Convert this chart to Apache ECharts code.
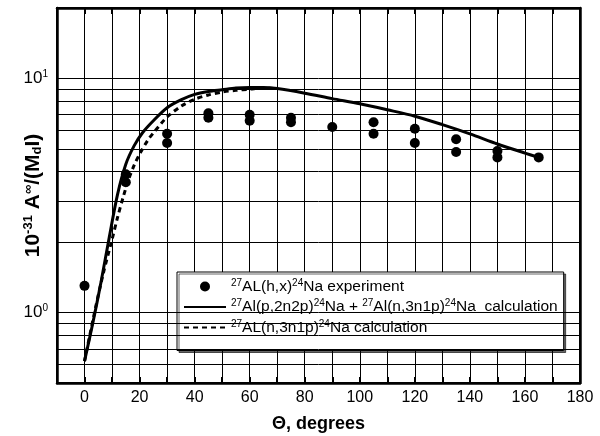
<!DOCTYPE html>
<html>
<head>
<meta charset="utf-8">
<script src="https://cdn.jsdelivr.net/npm/echarts@6/dist/echarts.min.js"></script>
<style>
  html, body { margin: 0; padding: 0; background: #fff; }
  #chart { width: 600px; height: 436px; }
</style>
</head>
<body>
<div id="chart"></div>
<script>
// Measured activity of 24Na versus emission angle
const expAngles = [0, 15, 15, 30, 30, 45, 45, 60, 60, 75, 75, 90, 105, 105, 120, 120, 135, 135, 150, 150, 165];
const expValues = [1.3, 3.9, 3.6, 5.8, 5.3, 7.1, 6.8, 7.0, 6.6, 6.8, 6.5, 6.2, 6.5, 5.8, 6.1, 5.3, 5.5, 4.85, 4.9, 4.6, 4.6];

// Calculation: (p,2n2p) + (n,3n1p) channels
const sumAngles = [0, 3, 6, 9, 12, 15, 18, 21, 25, 30, 35, 40, 45, 50, 55, 60, 65, 70, 80, 90, 100, 110, 120, 130, 140, 150, 160, 165];
const sumValues = [0.62, 0.9, 1.35, 2.1, 3.2, 4.3, 5.15, 5.85, 6.6, 7.5, 8.1, 8.55, 8.8, 8.95, 9.1, 9.15, 9.15, 9.05, 8.65, 8.2, 7.8, 7.35, 6.9, 6.35, 5.8, 5.25, 4.8, 4.6];

// Calculation: (n,3n1p) channel only
const n3n1pAngles = [0, 4, 7, 10, 12, 14, 16, 18, 20, 23, 25, 28, 30, 35, 40, 45, 50, 55, 60, 65, 70];
const n3n1pValues = [0.62, 1.05, 1.5, 2.05, 2.55, 3.1, 3.7, 4.25, 4.75, 5.45, 5.85, 6.45, 6.85, 7.6, 8.15, 8.5, 8.75, 8.9, 9.0, 9.1, 9.05];

// Horizontal grid levels of the logarithmic axis
const yGridLevels = [0.6, 0.7, 0.8, 0.9, 1, 2, 3, 4, 5, 6, 7, 8, 9, 10];
const yLabelDecades = { 1: '0', 10: '1' };

const legendNames = [
  '27AL(h,x)24Na experiment',
  '27Al(p,2n2p)24Na + 27Al(n,3n1p)24Na  calculation',
  '27AL(n,3n1p)24Na calculation'
];
const legendRich = {
  [legendNames[0]]: '{s|27}AL(h,x){s|24}Na experiment',
  [legendNames[1]]: '{s|27}Al(p,2n2p){s|24}Na + {s|27}Al(n,3n1p){s|24}Na  calculation',
  [legendNames[2]]: '{s|27}AL(n,3n1p){s|24}Na calculation'
};

const pairs = (xs, ys) => xs.map((x, i) => [x, ys[i]]);
const FONT = '"Liberation Sans", Arial, sans-serif';

const chart = echarts.init(document.getElementById('chart'), null, { renderer: 'canvas' });

const xBase = {
  type: 'value',
  min: -10,
  max: 180,
  interval: 10,
  axisLine: { show: true, onZero: false, lineStyle: { color: '#000', width: 2.5 } },
  axisTick: { show: true, inside: true, length: 6, lineStyle: { color: '#000', width: 2 } }
};

chart.setOption({
  animation: false,
  backgroundColor: '#fff',
  textStyle: { fontFamily: FONT, color: '#000' },
  grid: {
    left: 57, right: 20, top: 8, bottom: 53,
    outerBoundsMode: 'none',
    containLabel: false,
    show: true, borderColor: '#000', borderWidth: 2
  },
  legend: {
    orient: 'vertical',
    left: 177,
    top: 272,
    padding: [6, 6, 15, 6],
    itemWidth: 42,
    itemHeight: 10,
    itemGap: 4,
    backgroundColor: '#fff',
    borderColor: '#000',
    borderWidth: 1,
    shadowColor: 'rgba(0,0,0,0.6)',
    shadowOffsetX: 2,
    shadowOffsetY: 2,
    shadowBlur: 0,
    data: [
      { name: legendNames[0] },
      { name: legendNames[1], itemStyle: { opacity: 0 } },
      { name: legendNames[2], itemStyle: { opacity: 0 } }
    ],
    formatter: (name) => legendRich[name],
    textStyle: {
      fontFamily: FONT, fontSize: 15.5, color: '#000',
      rich: { s: { fontFamily: FONT, fontSize: 10, color: '#000', padding: [0, 0, 7, 0] } }
    }
  },
  xAxis: [
    Object.assign({}, xBase, {
      position: 'bottom',
      name: 'Θ, degrees',
      nameLocation: 'middle',
      nameGap: 32,
      nameTextStyle: { fontFamily: FONT, fontSize: 18, fontWeight: 'bold', color: '#000' },
      axisLabel: {
        margin: 7, fontSize: 16, color: '#000', fontFamily: FONT,
        formatter: (v) => (v >= 0 && v % 20 === 0 ? String(v) : '')
      },
      splitLine: { show: true, lineStyle: { color: '#000', width: 1 } }
    }),
    Object.assign({}, xBase, {
      position: 'top',
      axisLabel: { show: false },
      splitLine: { show: false }
    })
  ],
  yAxis: [
    {
      type: 'log',
      logBase: 10,
      min: 0.5,
      max: 20,
      position: 'left',
      name: '{t|10}{u|-31}{t| A}{u|∞}{t|/(M}{d|d}{t|I)}',
      nameLocation: 'middle',
      nameRotate: 90,
      nameGap: 12,
      nameMoveOverlap: false,
      nameTextStyle: {
        rich: {
          t: { fontFamily: FONT, fontSize: 21, fontWeight: 'bold', color: '#000' },
          u: { fontFamily: FONT, fontSize: 13, fontWeight: 'bold', color: '#000', padding: [0, 0, 10, 0] },
          d: { fontFamily: FONT, fontSize: 13, fontWeight: 'bold', color: '#000', padding: [8, 0, 0, 0] }
        }
      },
      axisLine: { show: true, onZero: false, lineStyle: { color: '#000', width: 2.5 } },
      axisTick: { show: false },
      splitLine: { show: false },
      axisLabel: {
        margin: 9,
        formatter: (v) => {
          const k = Math.round(v * 1000) / 1000;
          return yLabelDecades[k] !== undefined ? '{b|10}{e|' + yLabelDecades[k] + '}' : '';
        },
        rich: {
          b: { fontFamily: FONT, fontSize: 17, color: '#000' },
          e: { fontFamily: FONT, fontSize: 10, color: '#000', padding: [0, 0, 9, 0] }
        }
      }
    },
    {
      type: 'log',
      logBase: 10,
      min: 0.5,
      max: 20,
      position: 'right',
      axisLine: { show: true, onZero: false, lineStyle: { color: '#000', width: 2.5 } },
      axisTick: { show: false },
      axisLabel: { show: false },
      splitLine: { show: false }
    }
  ],
  series: [
    {
      name: 'grid levels',
      type: 'line',
      data: [],
      silent: true,
      markLine: {
        silent: true,
        symbol: 'none',
        label: { show: false },
        lineStyle: { color: '#000', width: 1, type: 'solid' },
        data: yGridLevels.map((v) => ({ yAxis: v }))
      }
    },
    {
      name: legendNames[0],
      type: 'scatter',
      symbol: 'circle',
      symbolSize: 10,
      itemStyle: { color: '#000', opacity: 1 },
      data: pairs(expAngles, expValues),
      z: 5
    },
    {
      name: legendNames[1],
      type: 'line',
      smooth: 0.3,
      symbol: 'none',
      lineStyle: { color: '#000', width: 3, type: 'solid' },
      itemStyle: { color: '#000' },
      data: pairs(sumAngles, sumValues),
      z: 4
    },
    {
      name: legendNames[2],
      type: 'line',
      smooth: 0.3,
      symbol: 'none',
      lineStyle: { color: '#000', width: 3, type: [5, 4] },
      itemStyle: { color: '#000' },
      data: pairs(n3n1pAngles, n3n1pValues),
      z: 4
    }
  ]
});
</script>
</body>
</html>
